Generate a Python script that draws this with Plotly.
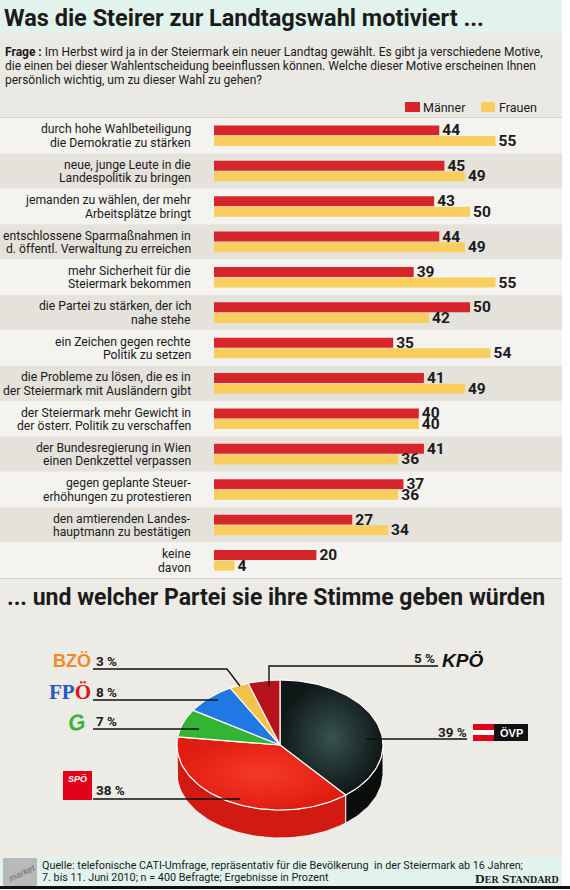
import math
import plotly.graph_objects as go

W, H = 570, 890

# ---------------- data ----------------
title_top = "Was die Steirer zur Landtagswahl motiviert ..."
question_lines = [
    "<b>Frage :</b> Im Herbst wird ja in der Steiermark ein neuer Landtag gewählt. Es gibt ja verschiedene Motive,",
    "die einen bei dieser Wahlentscheidung beeinflussen können. Welche dieser Motive erscheinen Ihnen",
    "persönlich wichtig, um zu dieser Wahl zu gehen?",
]
categories = [
    "durch hohe Wahlbeteiligung|die Demokratie zu stärken",
    "neue, junge Leute in die|Landespolitik zu bringen",
    "jemanden zu wählen, der mehr|Arbeitsplätze bringt",
    "entschlossene Sparmaßnahmen in|d. öffentl. Verwaltung zu erreichen",
    "mehr Sicherheit für die|Steiermark bekommen",
    "die Partei zu stärken, der ich|nahe stehe",
    "ein Zeichen gegen rechte|Politik zu setzen",
    "die Probleme zu lösen, die es in|der Steiermark mit Ausländern gibt",
    "der Steiermark mehr Gewicht in|der österr. Politik zu verschaffen",
    "der Bundesregierung in Wien|einen Denkzettel verpassen",
    "gegen geplante Steuer-|erhöhungen zu protestieren",
    "den amtierenden Landes-|hauptmann zu bestätigen",
    "keine|davon",
]
series_names = ["Männer", "Frauen"]
maenner = [44, 45, 43, 44, 39, 50, 35, 41, 40, 41, 37, 27, 20]
frauen = [55, 49, 50, 49, 55, 42, 54, 49, 40, 36, 36, 34, 4]

title_pie = "... und welcher Partei sie ihre Stimme geben würden"
parties = ["ÖVP", "SPÖ", "Grüne", "FPÖ", "BZÖ", "KPÖ"]
shares = [39, 38, 7, 8, 3, 5]

source_lines = [
    "Quelle: telefonische CATI-Umfrage, repräsentativ für die Bevölkerung  in der Steiermark ab 16 Jahren;",
    "7. bis 11. Juni 2010; n = 400 Befragte; Ergebnisse in Prozent",
]

# ---------------- styles ----------------
NARROW = "Roboto, Liberation Sans, Arial, sans-serif"
SANS = "Liberation Sans, Arial, sans-serif"
SERIF = "Liberation Serif, Times New Roman, serif"
RED = "#d7262b"
YELLOW = "#f8cf5e"
TXT = "#1b1b1b"
MINT = "#e2f3ed"
BOX = "#ebe9e3"
STRIPE_L = "#f4f3ef"
STRIPE_D = "#e4e2db"
PIEBG = "#ecebe5"

top_colors = {"ÖVP": "#1d302f", "SPÖ": "#ec2a1d", "Grüne": "#33b533",
              "FPÖ": "#1f78e4", "BZÖ": "#f4c24c", "KPÖ": "#b5121b"}
side_colors = {"ÖVP": "#0b0d0d", "SPÖ": "#d21a12", "Grüne": "#249424",
               "FPÖ": "#1659b0", "BZÖ": "#d9a232", "KPÖ": "#8a0c12"}


def X(px):
    return px / W


def Y(py):
    return 1 - py / H


shapes = []
annotations = []


def rect(x0, y0, x1, y1, color, layer="below"):
    shapes.append(dict(type="rect", xref="paper", yref="paper",
                       x0=X(x0), x1=X(x1), y0=Y(y1), y1=Y(y0),
                       fillcolor=color, line_width=0, layer=layer))


def line(pts, width=1.4, color="#111"):
    path = "M " + " L ".join(f"{X(a)},{Y(b)}" for a, b in pts)
    shapes.append(dict(type="path", xref="paper", yref="paper", path=path,
                       line=dict(color=color, width=width), layer="above"))


def ann(text, x, y, size, xanchor="left", color=TXT, family=NARROW, **kw):
    d = dict(xref="paper", yref="paper", x=X(x), y=Y(y), text=text,
             showarrow=False, xanchor=xanchor, yanchor="middle",
             font=dict(family=family, size=size, color=color))
    d.update(kw)
    annotations.append(d)


# ---------------- backgrounds ----------------
BAR_TOP, BAR_BOT = 118, 578
rect(0, 0, 562, 33, MINT)
rect(0, 33, 562, BAR_TOP, BOX)
for i in range(len(categories)):
    shapes.append(dict(type="rect", xref="paper", yref="y",
                       x0=0, x1=X(562), y0=i - 0.5, y1=i + 0.5,
                       fillcolor=STRIPE_L if i % 2 == 0 else STRIPE_D,
                       line_width=0, layer="below"))
rect(0, BAR_TOP - 1, 562, BAR_TOP, "#d6d4cc")
rect(0, BAR_BOT, 562, 857, PIEBG)
rect(0, BAR_BOT, 562, BAR_BOT + 1, "#d6d4cc")
rect(0, 857, 562, 886, MINT)
rect(0, 886, 570, 889, "#111111", layer="above")

# ---------------- header texts ----------------
ann(f"<b>{title_top}</b>", 2, 18, 23.5)
for k, t in enumerate(question_lines):
    ann(t, 3, 52 + 14 * k, 12)

# legend
rect(405, 102, 420, 112, RED, layer="above")
rect(481, 102, 495, 112, YELLOW, layer="above")
ann(series_names[0], 421, 107, 12.5)
ann(series_names[1], 497, 107, 12.5)

# ---------------- bar chart ----------------
idx = list(range(len(categories)))
fig = go.Figure()
for name, vals, col in [(series_names[0], maenner, RED), (series_names[1], frauen, YELLOW)]:
    fig.add_trace(go.Bar(
        y=idx, x=vals, name=name, orientation="h", marker=dict(color=col, line_width=0),
        text=vals, texttemplate="<b>%{text}</b>", textposition="outside",
        textfont=dict(family=NARROW, size=15.5, color=TXT),
        constraintext="none", cliponaxis=False, showlegend=False,
        xaxis="x", yaxis="y", hoverinfo="skip"))

for i, lab in enumerate(categories):
    parts = lab.split("|")
    n = len(parts)
    for j, p in enumerate(parts):
        shift = (n - 1) / 2 * 13.5 - j * 13.5
        annotations.append(dict(xref="paper", yref="y", x=X(193), y=i, yshift=shift - 0.5,
                                text=p, showarrow=False, xanchor="right", yanchor="middle",
                                font=dict(family=NARROW, size=12.2, color=TXT)))

# ---------------- pie (tilted 3D) ----------------
cx, cy, rx, ry, depth = 280, 745, 103, 65, 28


def pt(theta_deg, t=1.0, dy=0.0):
    th = math.radians(theta_deg)
    return cx + t * rx * math.sin(th), cy - t * ry * math.cos(th) + dy


total = sum(shares)
bounds = []
acc = 0.0
for s in shares:
    a = acc / total * 360
    acc += s
    b = acc / total * 360
    bounds.append((a, b))

# sides first
for p, (a, b) in zip(parties, bounds):
    a2, b2 = max(a, 90), min(b, 270)
    if a2 >= b2:
        continue
    n = max(4, int((b2 - a2) / 2))
    ts = [a2 + (b2 - a2) * k / n for k in range(n + 1)]
    top = [pt(t) for t in ts]
    bot = [pt(t, dy=depth) for t in reversed(ts)]
    xs = [q[0] for q in top + bot] + [top[0][0]]
    ys = [q[1] for q in top + bot] + [top[0][1]]
    fig.add_trace(go.Scatter(x=xs, y=ys, mode="lines", fill="toself",
                             fillcolor=side_colors[p],
                             line=dict(color="rgba(255,255,255,0.85)", width=1),
                             xaxis="x2", yaxis="y2", showlegend=False, hoverinfo="skip"))

# top faces
for p, (a, b) in zip(parties, bounds):
    n = max(4, int((b - a) / 2))
    ts = [a + (b - a) * k / n for k in range(n + 1)]
    arc = [pt(t) for t in ts]
    xs = [cx] + [q[0] for q in arc] + [cx]
    ys = [cy] + [q[1] for q in arc] + [cy]
    kw = {}
    if p == "ÖVP":
        kw["fillgradient"] = dict(type="radial", colorscale=[[0, "#36524f"], [1, "#0f1817"]])
    elif p == "SPÖ":
        kw["fillgradient"] = dict(type="radial", colorscale=[[0, "#f53a28"], [1, "#e11d12"]])
    else:
        kw["fillcolor"] = top_colors[p]
    fig.add_trace(go.Scatter(x=xs, y=ys, mode="lines", fill="toself",
                             line=dict(color="white", width=1.2),
                             xaxis="x2", yaxis="y2", showlegend=False, hoverinfo="skip", **kw))

# ---------------- pie labels ----------------
pct = {p: f"{s} %" for p, s in zip(parties, shares)}
ann(f"<b>{pct['BZÖ']}</b>", 94, 661, 13.5)
ann(f"<b>{pct['FPÖ']}</b>", 94, 692, 13.5)
ann(f"<b>{pct['Grüne']}</b>", 94, 721, 13.5)
ann(f"<b>{pct['SPÖ']}</b>", 94, 790, 13.5)
ann(f"<b>{pct['KPÖ']}</b>", 437, 658, 13.5, xanchor="right")
ann(f"<b>{pct['ÖVP']}</b>", 469, 732, 13.5, xanchor="right")

line([(93, 669), (227, 669), (240, 686)])
line([(93, 700), (218, 700)])
line([(93, 729), (199, 729)])
line([(93, 799), (240, 799)])
line([(438, 666), (269, 666), (269, 686)])
line([(467, 739), (366, 739)])

# logos
ann("<b>BZÖ</b>", 93, 661, 18, xanchor="right", color="#f08a26", family=SANS)
ann("<b><span style='color:#2458c8'>FP</span><span style='color:#d8141c'>Ö</span></b>",
    93, 692, 21, xanchor="right", family=SERIF)
ann("<b><i>G</i></b>", 90, 722, 22, xanchor="right", color="#35b43a", family=SANS, textangle=-12)
rect(63, 771, 92, 800, "#e3001b", layer="above")
ann("<b><i>SPÖ</i></b>", 77.5, 779, 9, xanchor="center", color="white", family=SANS)
ann("<b><i>KPÖ</i></b>", 440, 660, 19, color="#111111", family=SANS)
rect(473, 724, 494, 741, "#e3001b", layer="above")
rect(473, 730, 494, 735, "#ffffff", layer="above")
rect(494, 724, 528, 741, "#111111", layer="above")
ann("<b>ÖVP</b>", 511, 732.5, 11, xanchor="center", color="white", family=SANS)

# ---------------- pie title & footer ----------------
ann(f"<b>{title_pie}</b>", 5, 597, 23)

rect(3, 858, 37, 886, "#b9b9b9", layer="above")
ann("<i>market</i>", 22, 873, 9, xanchor="center", color="#6f6f6f", family=SANS, textangle=-25)
ann(source_lines[0], 40, 865, 10.8)
ann(source_lines[1], 40, 877, 10.8)
ann("<b>D<span style='font-size:10px'>ER</span> S<span style='font-size:10px'>TANDARD</span></b>",
    561, 878, 13.5, xanchor="right", family=SERIF)

# ---------------- layout ----------------
bar_max = (562 - 214) / 5.12
fig.update_layout(
    width=W, height=H, margin=dict(l=0, r=0, t=0, b=0),
    paper_bgcolor="white", plot_bgcolor="rgba(0,0,0,0)",
    barmode="group", bargap=0.4, bargroupgap=0.06,
    xaxis=dict(domain=[X(214), X(562)], range=[0, bar_max], visible=False, fixedrange=True),
    yaxis=dict(domain=[Y(BAR_BOT), Y(BAR_TOP)], range=[len(categories) - 0.5, -0.5],
               visible=False, fixedrange=True),
    xaxis2=dict(domain=[X(150), X(420)], range=[150, 420], visible=False, fixedrange=True,
                anchor="y2"),
    yaxis2=dict(domain=[Y(850), Y(670)], range=[850, 670], visible=False, fixedrange=True,
                anchor="x2"),
    shapes=shapes, annotations=annotations,
)

fig.write_html("out.html")
